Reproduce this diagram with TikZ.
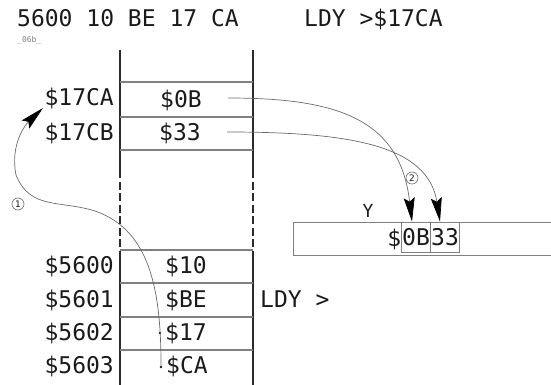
\documentclass[tikz,border=0pt]{standalone}
\usepackage{fontspec}
\newfontfamily\monof{DejaVu Sans Mono}
\newfontfamily\sansf{DejaVu Sans}
\usetikzlibrary{arrows.meta}
\definecolor{ink}{HTML}{1A1A1A}
\definecolor{linegray}{HTML}{808080}
\definecolor{curvegray}{HTML}{6A6A6A}
\definecolor{wallgray}{HTML}{2A2A2A}
\begin{document}
\begin{tikzpicture}[x=1pt,y=-1pt,
  txt/.style={font=\monof\fontsize{23}{26}\selectfont, text=ink, inner sep=0pt},
  wall/.style={draw=wallgray, line width=1.3pt},
  dashwall/.style={wall, dash pattern=on 8pt off 3.5pt},
  rowline/.style={draw=linegray, line width=1.1pt},
  curve/.style={draw=curvegray, line width=0.7pt},
  bigtip/.style={-{Stealth[length=24pt,width=11pt,inset=4pt,color=black,fill=black]}},
  digbox/.style={txt, draw=linegray, line width=0.8pt, minimum width=29pt, minimum height=30pt, text height=16.5pt, text depth=0pt},
  regbox/.style={draw=linegray, line width=1pt, inner sep=0pt, minimum width=263pt, minimum height=33pt},
  circ/.style={circle, draw=curvegray, line width=0.6pt, inner sep=0pt, minimum size=12pt, font=\sansf\fontsize{9}{10}\selectfont, text=ink},
  dotn/.style={circle, fill=ink, inner sep=0pt, minimum size=2.6pt}]
\useasboundingbox (0,0) rectangle (551,385);

% header texts
\node[txt, anchor=base west] (hex) at (17,27) {5600 10 BE 17 CA};
\node[txt, anchor=base west] (ins) at (304,27) {LDY >\$17CA};
\node[font=\monof\fontsize{8}{9}\selectfont, text=gray, inner sep=0pt, anchor=base west] (tag) at (17,43) {\_06b\_};

% memory column walls
\draw[wall] (120,50) -- (120,170);
\draw[dashwall] (120,170) -- (120,256);
\draw[wall] (120,256) -- (120,385);
\draw[wall] (253,50) -- (253,170);
\draw[dashwall] (253,170) -- (253,256);
\draw[wall] (253,256) -- (253,385);

% row separators
\foreach \yy in {82,117,150,250,283,317,350}
  \draw[rowline] (120,\yy) -- (253,\yy);

% addresses
\node[txt, anchor=base east] (a17CA) at (114,106) {\$17CA};
\node[txt, anchor=base east] (a17CB) at (114,140) {\$17CB};
\node[txt, anchor=base east] (a5600) at (114,273) {\$5600};
\node[txt, anchor=base east] (a5601) at (114,307) {\$5601};
\node[txt, anchor=base east] (a5602) at (114,340) {\$5602};
\node[txt, anchor=base east] (a5603) at (114,373) {\$5603};

% cell values
\node[txt, anchor=base] (v0B) at (181,107) {\$0B};
\node[txt, anchor=base] (v33) at (180,140) {\$33};
\node[txt, anchor=base] (v10) at (186,273) {\$10};
\node[txt, anchor=base] (vBE) at (186,307) {\$BE};
\node[txt, anchor=base] (v17) at (186,340) {\$17};
\node[txt, anchor=base] (vCA) at (187,373) {\$CA};

\node[txt, anchor=base west] (ldy) at (260,307) {LDY >};

% dots
\node[dotn] (d17) at (160,333) {};
\node[dotn] (dCA) at (161,367) {};

% Y register
\node[regbox, anchor=north west] (yreg) at (293,222) {};
\node[font=\monof\fontsize{18}{20}\selectfont, text=ink, inner sep=0pt, anchor=base] (ylab) at (368,217) {Y};
\node[digbox] (b0B) at (416,237) {0B};
\node[digbox] (b33) at (445,237) {33};
\node[txt, anchor=base east] (ydol) at (401.5,246) {\$};

% circled numbers
\node[circ] (n1) at (18,204) {1};
\node[circ] (n2) at (412,178) {2};

% connectors
\coordinate (sA) at (228,98);
\coordinate (sB) at (227,132);
\coordinate (tip1) at (43,108);

\draw[curve, bigtip] (sA) .. controls (340,98) and (400,120) .. ([xshift=-4pt]b0B.north);
\draw[curve, bigtip] (sB) .. controls (350,132) and (428,145) .. ([xshift=-5pt]b33.north);
\draw[curve, bigtip] (dCA) .. controls (161,290) and (150,230) .. (95,211)
  .. controls (60,200) and (30,210) .. (16,175)
  .. controls (10,145) and (25,125) .. (tip1);
\end{tikzpicture}
\end{document}
